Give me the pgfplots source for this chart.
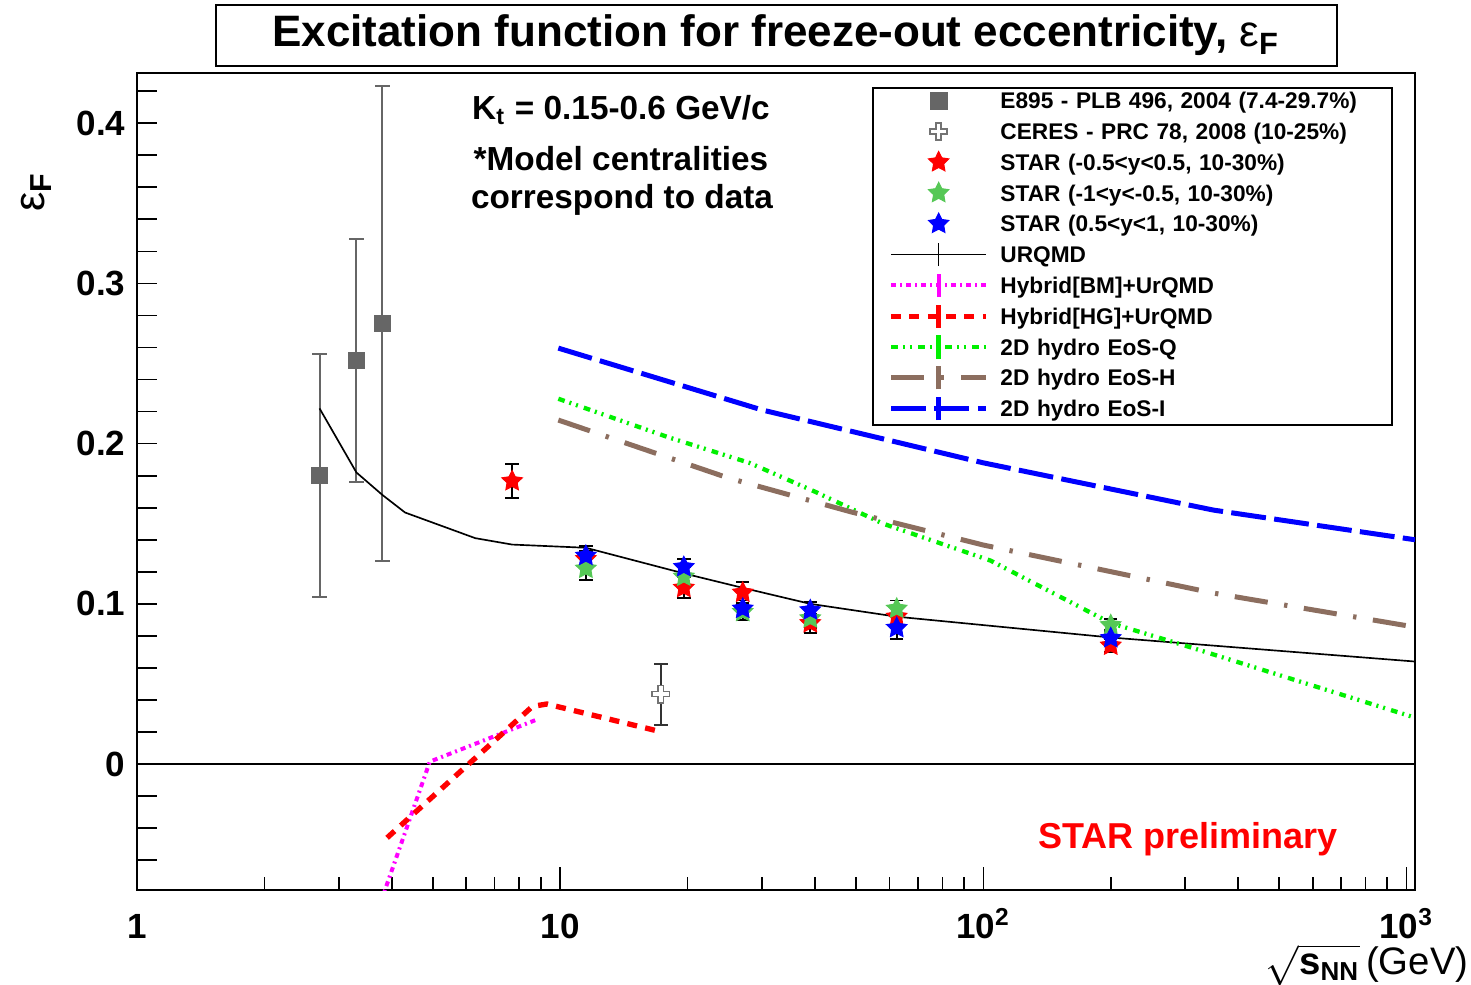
\documentclass[border=0pt]{standalone}
\usepackage{fontspec}
\setmainfont{Liberation Sans}
\usepackage{pgfplots}
\pgfplotsset{compat=1.18}
\usetikzlibrary{plotmarks}

\definecolor{e895}{RGB}{102,102,102}
\definecolor{stargreen}{RGB}{86,200,86}
\definecolor{brownh}{RGB}{140,110,95}
\definecolor{limeq}{RGB}{0,240,0}
\definecolor{mag}{RGB}{255,0,255}

\pgfdeclareplotmark{fstar}{%
  \pgfpathmoveto{\pgfpointpolar{90}{\pgfplotmarksize}}%
  \pgfpathlineto{\pgfpointpolar{126}{0.5\pgfplotmarksize}}%
  \pgfpathlineto{\pgfpointpolar{162}{\pgfplotmarksize}}%
  \pgfpathlineto{\pgfpointpolar{198}{0.5\pgfplotmarksize}}%
  \pgfpathlineto{\pgfpointpolar{234}{\pgfplotmarksize}}%
  \pgfpathlineto{\pgfpointpolar{270}{0.5\pgfplotmarksize}}%
  \pgfpathlineto{\pgfpointpolar{306}{\pgfplotmarksize}}%
  \pgfpathlineto{\pgfpointpolar{342}{0.5\pgfplotmarksize}}%
  \pgfpathlineto{\pgfpointpolar{18}{\pgfplotmarksize}}%
  \pgfpathlineto{\pgfpointpolar{54}{0.5\pgfplotmarksize}}%
  \pgfpathclose
  \pgfusepathqfillstroke
}
\pgfdeclareplotmark{ocross}{%
  \pgfpathmoveto{\pgfpoint{-0.3\pgfplotmarksize}{\pgfplotmarksize}}%
  \pgfpathlineto{\pgfpoint{0.3\pgfplotmarksize}{\pgfplotmarksize}}%
  \pgfpathlineto{\pgfpoint{0.3\pgfplotmarksize}{0.3\pgfplotmarksize}}%
  \pgfpathlineto{\pgfpoint{\pgfplotmarksize}{0.3\pgfplotmarksize}}%
  \pgfpathlineto{\pgfpoint{\pgfplotmarksize}{-0.3\pgfplotmarksize}}%
  \pgfpathlineto{\pgfpoint{0.3\pgfplotmarksize}{-0.3\pgfplotmarksize}}%
  \pgfpathlineto{\pgfpoint{0.3\pgfplotmarksize}{-\pgfplotmarksize}}%
  \pgfpathlineto{\pgfpoint{-0.3\pgfplotmarksize}{-\pgfplotmarksize}}%
  \pgfpathlineto{\pgfpoint{-0.3\pgfplotmarksize}{-0.3\pgfplotmarksize}}%
  \pgfpathlineto{\pgfpoint{-\pgfplotmarksize}{-0.3\pgfplotmarksize}}%
  \pgfpathlineto{\pgfpoint{-\pgfplotmarksize}{0.3\pgfplotmarksize}}%
  \pgfpathlineto{\pgfpoint{-0.3\pgfplotmarksize}{0.3\pgfplotmarksize}}%
  \pgfpathclose
  \pgfusepathqfillstroke
}

\pgfplotsset{
  markleg/.style={legend image code/.code={\path[draw=none,fill=none] (0pt,-3pt) rectangle (28.5pt,3pt);
      \draw[mark repeat=2,mark phase=2,##1] plot coordinates {(0pt,0pt)(14.25pt,0pt)(28.5pt,0pt)};}},
  lineleg/.style={legend image code/.code={\path[draw=none,fill=none] (0pt,-3pt) rectangle (28.5pt,3pt);
      \draw[##1] (0pt,0pt)--(28.5pt,0pt);
      \draw[##1,solid] (14.25pt,-3.5pt)--(14.25pt,3.5pt);}},
}

\begin{document}
\begin{tikzpicture}
\useasboundingbox (0,0) rectangle (441.3pt,-295.2pt);
\begin{axis}[
  at={(41.1pt,-267pt)}, anchor=south west,
  scale only axis, width=383.4pt, height=245.1pt,
  xmode=log, xmin=1, xmax=1047, ymin=-0.0786, ymax=0.4313,
  axis line style={line width=0.6pt},
  tick align=inside, xtick pos=left, ytick pos=left,
  xtick={1,10,100,1000},
  xticklabels={1,10,10\textsuperscript{2},10\textsuperscript{3}},
  minor xtick={2,3,4,5,6,7,8,9,20,30,40,50,60,70,80,90,200,300,400,500,600,700,800,900},
  ytick={0,0.1,0.2,0.3,0.4},
  yticklabels={0,0.1,0.2,0.3,0.4},
  minor ytick={-0.06,-0.04,-0.02,0.02,0.04,0.06,0.08,0.12,0.14,0.16,0.18,0.22,0.24,0.26,0.28,0.32,0.34,0.36,0.38,0.42},
  major tick length=7pt, minor tick length=4pt,
  every tick/.style={black, line width=0.5pt},
  ytick style={/pgfplots/major tick length=6pt,/pgfplots/minor tick length=6pt},
  tick label style={font=\fontsize{10.5}{12}\selectfont\bfseries},
  xticklabel style={text height=8pt, yshift=-3pt},
  /pgf/number format/assume math mode=true,
  legend cell align=left,
  legend style={at={(0.5755,0.983)}, anchor=north west, draw=black, line width=0.6pt, fill=white,
    font=\fontsize{6.8}{8}\selectfont\bfseries,
    inner xsep=4.5pt, inner ysep=0.8pt, column sep=3.5pt,
    row sep={9.24pt,between origins},
    nodes={inner sep=0pt, text depth=0pt},
    /tikz/every even column/.append style={text width=113pt}},
]
\addplot[forget plot, black, line width=0.6pt] coordinates {(1,0) (1047,0)};

\addplot[only marks, mark=square*, mark size=2.4pt, e895, markleg,
  error bars/.cd, y dir=both, y explicit,
  error bar style={line width=0.6pt, e895},
  error mark options={rotate=90, line width=0.6pt, mark size=2.2pt, e895}]
  coordinates {(2.7,0.180) +- (0,0.076) (3.3,0.252) +- (0,0.076) (3.8,0.275) +- (0,0.148)};
\addlegendentry{E895 - PLB 496, 2004 (7.4-29.7\%)}

\addplot[only marks, mark=ocross, mark size=2.6pt, black!55,
  mark options={draw=black!55, fill=white, line width=0.5pt}, markleg,
  error bars/.cd, y dir=both, y explicit,
  error bar style={line width=0.6pt, black!80},
  error mark options={rotate=90, line width=0.6pt, mark size=2pt, black!80}]
  coordinates {(17.3,0.0437) +- (0,0.019)};
\addlegendentry{CERES - PRC 78, 2008 (10-25\%)}

\addplot[only marks, mark=fstar, mark size=3.2pt, red,
  mark options={draw=red, fill=red, line width=0.3pt}, markleg,
  error bars/.cd, y dir=both, y explicit,
  error bar style={line width=0.5pt, black},
  error mark options={rotate=90, line width=0.5pt, mark size=2pt, black}]
  coordinates {(7.7,0.1766) +- (0,0.0106) (11.5,0.128) +- (0,0.005) (19.6,0.110) +- (0,0.0065)
    (27,0.107) +- (0,0.0065) (39,0.088) +- (0,0.006) (62.4,0.092) +- (0,0.006) (200,0.074) +- (0,0.004)};
\addlegendentry{STAR (-0.5<y<0.5, 10-30\%)}

\addplot[only marks, mark=fstar, mark size=3.2pt, stargreen,
  mark options={draw=stargreen, fill=stargreen, line width=0.3pt}, markleg,
  error bars/.cd, y dir=both, y explicit,
  error bar style={line width=0.5pt, black},
  error mark options={rotate=90, line width=0.5pt, mark size=2pt, black}]
  coordinates {(11.5,0.122) +- (0,0.007) (19.6,0.117) +- (0,0.006) (27,0.095) +- (0,0.005)
    (39,0.091) +- (0,0.006) (62.4,0.097) +- (0,0.005) (200,0.0867) +- (0,0.004)};
\addlegendentry{STAR (-1<y<-0.5, 10-30\%)}

\addplot[only marks, mark=fstar, mark size=3.2pt, blue,
  mark options={draw=blue, fill=blue, line width=0.3pt}, markleg,
  error bars/.cd, y dir=both, y explicit,
  error bar style={line width=0.5pt, black},
  error mark options={rotate=90, line width=0.5pt, mark size=2pt, black}]
  coordinates {(11.5,0.130) +- (0,0.006) (19.6,0.123) +- (0,0.005) (27,0.097) +- (0,0.005)
    (39,0.096) +- (0,0.005) (62.4,0.085) +- (0,0.007) (200,0.0786) +- (0,0.005)};
\addlegendentry{STAR (0.5<y<1, 10-30\%)}

\addplot[black, line width=0.5pt, lineleg] coordinates {
  (2.7,0.222) (3.3,0.182) (3.8,0.168) (4.3,0.157) (6.3,0.141) (7.7,0.137) (11.5,0.135)
  (19.6,0.119) (27,0.110) (39,0.100) (62.4,0.092) (200,0.079) (1047,0.064)};
\addlegendentry{URQMD}

\addplot[mag, line width=1.2pt, dash pattern=on 1.5pt off 1.2pt on 0.6pt off 1.2pt, lineleg]
  coordinates {(3.78,-0.085) (4.92,0.0015) (8.75,0.0275)};
\addlegendentry{Hybrid[BM]+UrQMD}

\addplot[red, line width=1.6pt, dash pattern=on 3pt off 2.5pt, lineleg]
  coordinates {(3.9,-0.046) (8.6,0.036) (9.3,0.0375) (16.8,0.021)};
\addlegendentry{Hybrid[HG]+UrQMD}

\addplot[limeq, line width=1.3pt, dash pattern=on 2pt off 1.5pt on 0.6pt off 1.5pt on 0.6pt off 1.9pt, lineleg]
  coordinates {(9.9,0.228) (18,0.204) (28,0.188) (40,0.170) (58,0.150) (104,0.127) (200,0.088) (313,0.0724) (1047,0.029)};
\addlegendentry{2D hydro EoS-Q}

\addplot[brownh, line width=1.5pt, dash pattern=on 10pt off 5pt on 1pt off 5pt, lineleg]
  coordinates {(9.9,0.2147) (25,0.1785) (48.5,0.1575) (100,0.1367) (350,0.1067) (1047,0.0855)};
\addlegendentry{2D hydro EoS-H}

\addplot[blue, line width=1.5pt, dash pattern=on 10.5pt off 2.5pt, lineleg]
  coordinates {(9.9,0.2596) (30,0.221) (100,0.188) (350,0.1585) (1047,0.140)};
\addlegendentry{2D hydro EoS-I}
\end{axis}

% title
\node[draw, line width=0.6pt, minimum width=336.3pt, minimum height=18.3pt, inner sep=0pt,
  font=\fontsize{13.2}{15}\selectfont\bfseries] at (232.8pt,-10.65pt)
  {Excitation function for freeze-out eccentricity, {\mdseries ε}\textsubscript{F}};
% annotations
\node[anchor=base, inner sep=0pt, font=\fontsize{10}{12}\selectfont\bfseries] at (186.3pt,-35.7pt)
  {K\textsubscript{t} = 0.15-0.6 GeV/c};
\node[anchor=base, inner sep=0pt, font=\fontsize{10}{12}\selectfont\bfseries] at (186.3pt,-51pt)
  {*Model centralities};
\node[anchor=base, inner sep=0pt, font=\fontsize{10}{12}\selectfont\bfseries] at (186.6pt,-62.4pt)
  {correspond to data};
\node[anchor=base, inner sep=0pt, text=red, font=\fontsize{10.8}{13}\selectfont\bfseries] at (356.4pt,-254.4pt)
  {STAR preliminary};
% axis titles
\node[rotate=90, inner sep=0pt, font=\fontsize{13}{15}\selectfont] at (10.8pt,-57.6pt)
  {ε\textsubscript{\bfseries F}};
\node[anchor=base east, inner sep=0pt, font=\fontsize{11.5}{13}\selectfont] at (440.7pt,-292.4pt)
  {$\sqrt{\mbox{\bfseries s}_{\mbox{\bfseries\fontsize{7.8}{9}\selectfont NN}}}$\,(GeV)};
\end{tikzpicture}
\end{document}
